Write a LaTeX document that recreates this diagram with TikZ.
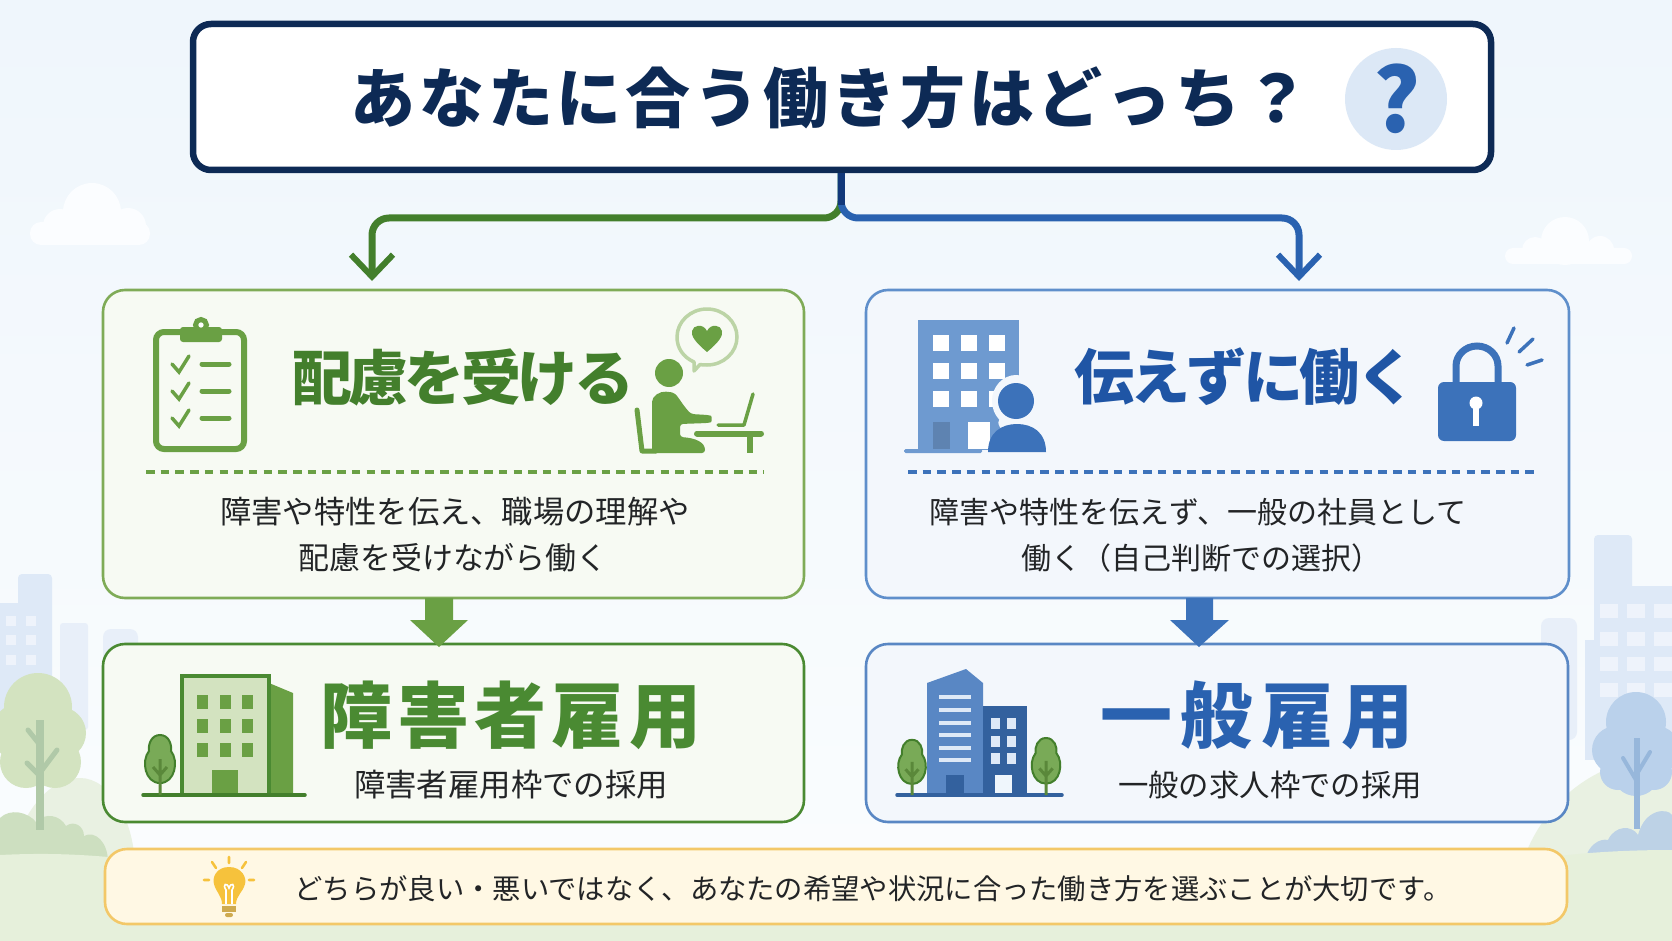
\documentclass[tikz,border=0pt]{standalone}
\usepackage{fontspec}
\setmainfont{Noto Sans CJK JP}
\usetikzlibrary{arrows.meta,calc}
\definecolor{navy}{HTML}{0D2A55}
\definecolor{stemc}{HTML}{12387A}
\definecolor{grnD}{HTML}{437F2C}
\definecolor{grnJ}{HTML}{4A8A32}
\definecolor{grnM}{HTML}{6AA044}
\definecolor{grnL}{HTML}{7FAB57}
\definecolor{bubblec}{HTML}{BCD4A6}
\definecolor{bluD}{HTML}{1F55A5}
\definecolor{bluJ}{HTML}{2A62B0}
\definecolor{bluM}{HTML}{3C72BA}
\definecolor{bluL}{HTML}{5F8FCB}
\definecolor{officec}{HTML}{6E9AD0}
\definecolor{ink}{HTML}{222426}
\definecolor{skyT}{HTML}{EFF6FC}
\definecolor{skyM}{HTML}{F7FAFE}
\definecolor{skyB}{HTML}{FBFDFE}
\definecolor{cloudc}{HTML}{FBFDFF}
\definecolor{cityA}{HTML}{DEE9F7}
\definecolor{cityB}{HTML}{E8EFF9}
\definecolor{cityW}{HTML}{EEF3FB}
\definecolor{groundc}{HTML}{E6F0DB}
\definecolor{hillc}{HTML}{E9F1E2}
\definecolor{bushG}{HTML}{CDDFC0}
\definecolor{crownG}{HTML}{D3E3C0}
\definecolor{trunkG}{HTML}{B0C9A8}
\definecolor{crownB}{HTML}{BAD1EB}
\definecolor{trunkB}{HTML}{97B7DB}
\definecolor{bushB}{HTML}{BDD2E6}
\definecolor{goldc}{HTML}{F6C23C}
\definecolor{goldL}{HTML}{F3C868}
\definecolor{hintbg}{HTML}{FFF8E4}
\definecolor{cardG}{HTML}{F7FAF3}
\definecolor{cardB}{HTML}{F3F7FC}
\definecolor{qcirc}{HTML}{DCE8F6}
\newcommand{\fs}[1]{\fontsize{#1}{#1}\selectfont}
\newcommand{\ls}[1]{\addfontfeature{LetterSpace=#1}}
\tikzset{
  x=1pt, y=-1pt,
  cardbox/.style={rounded corners=22pt, line width=2.6pt, inner sep=0pt},
  bodytext/.style={inner sep=0pt, text=ink, font=\fs{30}},
  branchline/.style={line width=7pt, rounded corners=17pt, -{Straight Barb[length=22pt,width=42pt,line width=6pt]}},
  divider/.style={line width=3.2pt, dash pattern=on 8.5pt off 6.2pt},
  leafy/.pic={
    \draw[line width=2pt, draw=grnD, fill=grnM!90!white]
      (0,-60) .. controls (-9,-60) and (-12,-50) .. (-11,-44)
      .. controls (-19,-34) and (-15,-12) .. (0,-12)
      .. controls (15,-12) and (19,-34) .. (11,-44)
      .. controls (12,-50) and (9,-60) .. (0,-60) -- cycle;
    \draw[line width=3pt, draw=grnM!85!black] (0,0) -- (0,-36) (-7,-28) -- (0,-20) -- (7,-28);
  },
}
\begin{document}
\begin{tikzpicture}
\useasboundingbox (0,0) rectangle (1672,941);
% sky
\shade[top color=skyT, middle color=skyM, bottom color=skyB] (0,0) rectangle (1672,941);

% clouds
\fill[cloudc, rounded corners=11pt] (30,222) rectangle (150,245);
\fill[cloudc] (92,212) circle[radius=29];
\fill[cloudc] (60,226) circle[radius=17];
\fill[cloudc] (128,226) circle[radius=18];
\fill[cloudc, rounded corners=8pt] (1505,248) rectangle (1632,264);
\fill[cloudc] (1565,241) circle[radius=24];
\fill[cloudc] (1535,250) circle[radius=13];
\fill[cloudc] (1600,250) circle[radius=14];

% distant city, left
\fill[cityA, rounded corners=4pt] (18,574) rectangle (52,720);
\fill[cityA] (0,603) rectangle (52,720);
\fill[cityB, rounded corners=3pt] (60,623) rectangle (88,730);
\fill[cityB, rounded corners=8pt] (103,629) rectangle (138,700);
\foreach \wx in {6,26} \foreach \wy in {616,635,655}
  \fill[cityW] (\wx,\wy) rectangle +(10,10);

% distant city, right
\fill[cityA, rounded corners=4pt] (1594,535) rectangle (1632,720);
\fill[cityA] (1585,640) rectangle (1672,760);
\fill[cityA] (1615,586) rectangle (1672,720);
\fill[cityB, rounded corners=8pt] (1541,618) rectangle (1577,740);
\foreach \wx in {1600,1627,1654} \foreach \wy in {604,632,657,683}
  \fill[cityW] (\wx,\wy) rectangle +(18,14);

% hills and ground
\fill[hillc] (5,870) .. controls (25,800) and (55,778) .. (80,778) .. controls (110,778) and (135,820) .. (135,870) -- cycle;
\fill[hillc] (1520,870) .. controls (1540,800) and (1600,762) .. (1640,762) .. controls (1655,762) and (1665,765) .. (1672,770) -- (1672,870) -- cycle;
\fill[bushG] (0,862) -- (0,818) .. controls (10,808) and (28,812) .. (36,822)
  .. controls (45,812) and (60,815) .. (66,826)
  .. controls (74,820) and (84,826) .. (84,836)
  .. controls (95,830) and (108,842) .. (108,862) -- cycle;
\fill[bushB] (1585,860) .. controls (1588,845) and (1600,838) .. (1608,840)
  .. controls (1615,825) and (1632,825) .. (1638,835)
  .. controls (1645,808) and (1668,808) .. (1672,815) -- (1672,860) -- cycle;
\fill[groundc] (0,855) .. controls (60,852) and (100,856) .. (140,860) -- (1530,860)
  .. controls (1580,852) and (1630,850) .. (1672,850) -- (1672,941) -- (0,941) -- cycle;

% trees in the distance
\fill[crownG] (38,707) circle[radius=34];
\fill[crownG] (22,732) circle[radius=30];
\fill[crownG] (60,733) circle[radius=26];
\fill[crownG] (55,762) circle[radius=26];
\fill[crownG] (26,762) circle[radius=26];
\draw[trunkG, line width=8pt] (40,720) -- (40,830);
\draw[trunkG, line width=5pt, line cap=round] (28,730) -- (40,745) (57,750) -- (42,770) (27,763) -- (40,776);
\fill[crownB] (1636,722) circle[radius=30];
\fill[crownB] (1616,750) circle[radius=24];
\fill[crownB] (1656,750) circle[radius=24];
\fill[crownB] (1636,772) circle[radius=24];
\fill[crownB] (1618,772) circle[radius=18];
\fill[crownB] (1654,772) circle[radius=18];
\draw[trunkB, line width=6pt] (1637,738) -- (1637,829);
\draw[trunkB, line width=4pt, line cap=round] (1623,758) -- (1636,780) (1650,752) -- (1638,772);

% title
\node[draw=navy, line width=6.5pt, fill=white, rounded corners=18pt, minimum width=1298pt, minimum height=146pt, inner sep=0pt] (title) at (842,97) {};
\node[inner sep=0pt, text=navy, font=\fs{65}\bfseries\ls{5.7}] (titletext) at (830,98) {あなたに合う働き方はどっち？};
\node[circle, inner sep=0pt, minimum size=102pt, fill=qcirc] (qmark) at (1396,99) {};
\node[inner sep=0pt, text=bluJ, font=\fs{88}\bfseries] (qmarktext) at (1397,99) {?};

% coloured cards
\node[cardbox, draw=grnL, fill=cardG, minimum width=701pt, minimum height=308pt] (careL) at (453.5,444) {};
\node[cardbox, draw=bluL, fill=cardB, minimum width=703pt, minimum height=308pt] (careR) at (1217.5,444) {};
\node[cardbox, draw=grnJ, fill=cardG, minimum width=701pt, minimum height=178pt] (jobL) at (453.5,733) {};
\node[cardbox, draw=bluM!85!white, fill=cardB, minimum width=702pt, minimum height=178pt] (jobR) at (1217,733) {};
\node[cardbox, draw=goldL, fill=hintbg, minimum width=1462pt, minimum height=75pt] (hint) at (836,886.5) {};

% branch connectors
\coordinate (tipL) at (372,281);
\coordinate (tipR) at (1299,281);
\coordinate (rail) at (841,218);
\draw[branchline, draw=grnD] (rail|-title.south) -- (rail) -- (rail-|tipL) -- (tipL);
\draw[branchline, draw=bluJ] (rail|-title.south) -- (rail) -- (rail-|tipR) -- (tipR);
\draw[stemc, line width=7pt] (rail|-title.south) -- ++(0,32);

% block arrows between cards
\fill[grnM] (425,598) -- (453,598) -- (453,620) -- (468,620) -- (439,647) -- (410,620) -- (425,620) -- cycle;
\fill[bluM] (1186,598) -- (1213,598) -- (1213,620) -- (1229,620) -- (1199,647) -- (1170,620) -- (1186,620) -- cycle;

% checklist icon
\draw[grnM, line width=6pt, rounded corners=8pt] (156,332) rectangle (244,449);
\fill[grnM, rounded corners=3pt] (180,327) rectangle (222,342);
\draw[grnM, line width=5pt, fill=white] (201,325) circle[radius=5.5];
\foreach \cy in {364,391,418} {
  \draw[grnM, line width=3.5pt, line cap=round] (172,\cy) -- (179,{\cy+8}) -- (189,{\cy-8});
  \draw[grnM, line width=5pt, line cap=round] (202,\cy) -- (229,\cy);
}

% seated worker with a speech bubble
\fill[grnM] (669,373) circle[radius=14];
\fill[grnM, rounded corners=3pt] (652,453) -- (652,405) .. controls (652,396) and (660,391) .. (669,392)
  .. controls (677,393) and (680,402) .. (691,414) -- (708,415) .. controls (712,416) and (712,422) .. (708,423)
  -- (680,424) -- (680,437) .. controls (695,438) and (705,442) .. (705,453) -- cycle;
\draw[grnM, line width=5pt, line cap=round, line join=round] (637,410) -- (642,451) -- (656,451);
\draw[grnM, line width=6pt, line cap=round] (697,433.5) -- (761,433.5);
\draw[grnM, line width=6pt] (750,434) -- (750,453);
\draw[grnM, line width=3.5pt, line cap=round, line join=round] (753,394) -- (744,425) -- (718,425);
\draw[bubblec, line width=3.5pt, fill=cardG, line join=round]
  (694,371) -- (694,362) .. controls (683,357) and (677,348) .. (677,337)
  .. controls (677,321.6) and (690.5,309) .. (707,309)
  .. controls (723.5,309) and (737,321.6) .. (737,337)
  .. controls (737,352.4) and (723.5,365) .. (707,365)
  .. controls (704,365) and (702,365) .. (700,364.5) -- cycle;
\fill[grnM] (707,352) .. controls (695,342) and (691,336) .. (692,331)
  .. controls (693,325) and (703,323) .. (707,331) .. controls (711,323) and (721,325) .. (722,331)
  .. controls (723,336) and (719,342) .. (707,352) -- cycle;

% office and employee
\fill[officec] (918,320) rectangle (1019,450);
\fill[officec, rounded corners=1.5pt] (904,449) rectangle (982,453);
\foreach \wx in {941,969,997} \foreach \wy in {343,371,399}
  \fill[white] ({\wx-8},{\wy-8}) rectangle +(16,16);
\fill[officec!85!black] (933,422) rectangle (950,449);
\fill[white] (968,422) rectangle (990,449);
\fill[cardB] (1016,401) ellipse[x radius=24, y radius=26];
\fill[cardB] (1017,452) .. controls (1017,435) and (975,420) .. (1017,414) -- (1052,452) -- cycle;
\fill[bluM] (1016,401) ellipse[x radius=18, y radius=18];
\fill[bluM] (988,452) .. controls (988,432) and (1002,424) .. (1017,424)
  .. controls (1032,424) and (1046,432) .. (1046,452) -- cycle;

% padlock
\draw[bluM, line width=7pt] (1456,384) -- (1456,366) arc[start angle=180, end angle=360, x radius=21, y radius=20] -- (1498,384);
\fill[bluM, rounded corners=6pt] (1438,382) rectangle (1516,441);
\fill[white] (1476,403) circle[radius=6.5];
\fill[white] (1473,405) rectangle (1479,426);
\draw[bluM, line width=3.5pt, line cap=round] (1514,328) -- (1507,343) (1533,339) -- (1519,352) (1542,360) -- (1527,365);

% small office with a tree
\fill[grnM] (269,683) -- (293,693) -- (293,795) -- (269,795) -- cycle;
\draw[grnJ, line width=4pt, fill=crownG] (182,676) rectangle (269,795);
\foreach \wx in {202,225,247} \foreach \wy in {702,726,750}
  \fill[grnM] ({\wx-5.5},{\wy-7}) rectangle +(11,14);
\fill[grnM] (212,770) rectangle (238,795);
\draw[grnD, line width=3.5pt, line cap=round] (143,795) -- (305,795);
\pic at (160,795) {leafy};

% corporate towers with trees
\fill[bluM!85!white] (927,795) -- (927,683) -- (966,669) -- (983,683) -- (983,795) -- cycle;
\foreach \sy in {697,710,723,735,748,760}
  \fill[cityA] (939,{\sy-2}) rectangle (971,{\sy+2});
\fill[bluM!85!black] (946,775) rectangle (964,795);
\fill[bluM!85!black] (983,706) rectangle (1027,795);
\foreach \wx in {995,1011} \foreach \wy in {723,741,758}
  \fill[cityA] ({\wx-4.5},{\wy-5.5}) rectangle +(9,11);
\fill[skyT] (995,775) rectangle (1012,795);
\draw[bluM!85!black, line width=3.5pt, line cap=round] (897,795) -- (1062,795);
\pic[scale=0.92] at (912,795) {leafy};
\pic[scale=0.95] at (1046,795) {leafy};

% light bulb
\fill[goldc] (229,867) .. controls (216,867) and (212,878) .. (214,884)
  .. controls (216,892) and (222,896) .. (222,904) -- (236,904)
  .. controls (236,896) and (243,892) .. (245,884) .. controls (247,878) and (242,867) .. (229,867) -- cycle;
\draw[white, line width=1.6pt] (226,904) -- (226,890) .. controls (222,884) and (227,882) .. (229,888)
  .. controls (231,882) and (236,884) .. (232,890) -- (232,904);
\fill[goldc!80!black!85!white] (222,906) rectangle (236,912);
\fill[goldc!80!black!85!white, rounded corners=2pt] (225,913) rectangle (233,917);
\draw[goldc, line width=2.6pt, line cap=round]
  (229,857) -- (229,863) (212,862) -- (216,868) (246,862) -- (242,868)
  (204,880) -- (209,880) (249,880) -- (254,880);

% card dividers
\draw[divider, grnM] (146,472) -- (764,472);
\draw[divider, bluM] (908,472) -- (1534,472);

% headings
\node[inner sep=0pt, text=grnD, font=\fs{60}\bfseries\ls{-6}] (headL) at (463,377) {配慮を受ける};
\node[inner sep=0pt, text=bluD, font=\fs{60}\bfseries\ls{-6}] (headR) at (1245,377) {伝えずに働く};
\node[inner sep=0pt, text=grnJ, font=\fs{72}\bfseries\ls{7}] (jobLtext) at (511,715) {障害者雇用};
\node[inner sep=0pt, text=bluJ, font=\fs{72}\bfseries\ls{12}] (jobRtext) at (1257,715) {一般雇用};

% body texts
\node[bodytext, font=\fs{31.3}] (bodyL1) at (455,512) {障害や特性を伝え、職場の理解や};
\node[bodytext, font=\fs{30.9}] (bodyL2) at (453,558) {配慮を受けながら働く};
\node[bodytext] (bodyR1) at (1198,512) {障害や特性を伝えず、一般の社員として};
\node[bodytext] (bodyR2) at (1201.5,558) {働く（自己判断での選択）};
\node[bodytext, font=\fs{31.4}] (subL) at (511,785) {障害者雇用枠での採用};
\node[bodytext, font=\fs{30.4}] (subR) at (1270,785) {一般の求人枠での採用};
\node[bodytext, font=\fs{28.3}] (hinttext) at (873,889) {どちらが良い・悪いではなく、あなたの希望や状況に合った働き方を選ぶことが大切です。};
\end{tikzpicture}
\end{document}
